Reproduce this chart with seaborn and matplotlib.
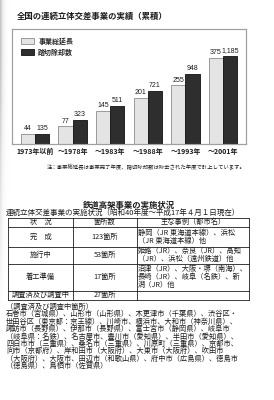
import numpy as np
import pandas as pd
import seaborn as sns
import matplotlib.pyplot as plt
from matplotlib.patches import Patch
from matplotlib.container import BarContainer

# ---- chart data ----
periods = ["1973年以前", "～1978年", "～1983年", "～1988年", "～1993年", "～2001年"]
series_names = ["事業総延長", "踏切除却数"]
length_km = [44, 77, 145, 201, 255, 375]
crossings = [135, 323, 511, 721, 948, 1185]

chart_title = "全国の連続立体交差事業の実績（累積）"
chart_note = "注：事業総延長は事業完了年度、踏切除却数は除去された年度で計上しています。"

# ---- table data ----
table_title = "鉄道高架事業の実施状況"
table_sub = "連続立体交差事業の実施状況（昭和40年度～平成17年４月１日現在）"
table_head = ["状　況", "箇所数", "主な事例（都市名）"]
status = ["完　成", "施行中", "着工準備", "調査済及び調査中"]
sites = ["123箇所", "53箇所", "17箇所", "27箇所"]
examples = [
    ["静岡（JR 東海道本線）、浜松", "（JR 東海道本線）他"],
    ["姫路（JR）、奈良（JR）、高知", "（JR）、浜松（遠州鉄道）他"],
    ["沼津（JR）、大阪・堺（南海）、", "長崎（JR）、岐阜（名鉄）、新", "潟（JR）他"],
    [],
]
survey_lines = [
    "（調査済及び調査中箇所）",
    "石巻市（宮城県）、山形市（山形県）、木更津市（千葉県）、渋谷区・",
    "世田谷区（東京都：京王線）、川崎市、横浜市、大和市（神奈川県）、",
    "諏訪市（長野県）、伊那市（長野県）、富士宮市（静岡県）、岐阜市",
    "（岐阜県：名鉄）、名古屋市、豊川市（愛知県）、半田市（愛知県）、",
    "四日市市（三重県）、桑名市（三重県）、川原町（三重県）、京都市、",
    "向市（京都府）、岸和田市（大阪府）、大東市（大阪府）、吹田市",
    "（大阪府）、大阪市、田辺市（和歌山県）、府中市（広島県）、徳島市",
    "（徳島県）、鳥栖市（佐賀県）",
]

sns.set_theme(style="white")
plt.rcParams['font.family'] = ['Noto Sans CJK JP', 'DejaVu Sans']
ink = "#1c1c1c"

df = pd.DataFrame({
    "年": periods * 2,
    "系列": [series_names[0]] * len(periods) + [series_names[1]] * len(periods),
    "値": length_km + crossings,
})
pal = {series_names[0]: "#e4e4e4", series_names[1]: "#2e2e2e"}
edge = {series_names[0]: "#8c8c8c", series_names[1]: "#111111"}

W, H = 274, 400
fig = plt.figure(figsize=(W / 100, H / 100), dpi=100)
fig.patch.set_facecolor("white")

# scanned-page shadow along the left edge
bg = fig.add_axes([0, 0, 1, 1], zorder=-5)
bg.set_xlim(0, W)
bg.set_ylim(H, 0)
bg.axis("off")
gx = np.linspace(0, 10, 40)
gy = np.linspace(0, H, 200)
shade = np.exp(-gx[None, :] / 2.2) * np.clip(1.2 - gy[:, None] / 260, 0, 1) * 0.28
bg.imshow(1 - shade, cmap="gray", vmin=0, vmax=1, extent=(0, 10, H, 0),
          aspect="auto", interpolation="bilinear")
bg.set_xlim(0, W)
bg.set_ylim(H, 0)

# chart box (pixel coords of the reference)
ax = fig.add_axes([12 / W, 1 - 144 / H, 234 / W, 115 / H])
ax2 = ax.twinx()
for a, name, top, vals in [(ax, series_names[0], 500, length_km),
                           (ax2, series_names[1], 1550, crossings)]:
    sns.barplot(data=df[df["系列"] == name], x="年", y="値", hue="系列",
                hue_order=series_names, order=periods, palette=pal,
                width=0.75, dodge=True, edgecolor=edge[name], linewidth=0.6,
                errorbar=None, legend=False, ax=a)
    a.set_ylim(0, top)
    a.set_yticks([])
    a.set_ylabel("")
    a.set_xlabel("")
    bars = [c for c in a.containers
            if isinstance(c, BarContainer) and len(c) and all(p is not None for p in c)]
    a.bar_label(bars[0], labels=[f"{v:,}" for v in vals], padding=1.2,
                fontsize=5, family="Liberation Sans", color=ink)

ax.set_xlim(-0.61, 5.61)
ax.tick_params(axis="x", length=0, pad=3, labelsize=5, colors=ink)
for lab in ax.get_xticklabels():
    lab.set_fontweight("bold")
for a in (ax, ax2):
    for s in a.spines.values():
        s.set_color("#a0a0a0")
        s.set_linewidth(0.8)

handles = [Patch(facecolor=pal[n], edgecolor=edge[n], linewidth=0.6) for n in series_names]
ax2.legend(handles=handles, labels=series_names, loc="upper left",
           bbox_to_anchor=(0.038, 0.93), borderaxespad=0, borderpad=0,
           frameon=False, handlelength=1.9, handleheight=1.0,
           handletextpad=0.6, labelspacing=0.55,
           prop={"size": 5, "weight": "bold"})

# ---- text layer in pixel coordinates ----
tx = fig.add_axes([0, 0, 1, 1])
tx.set_xlim(0, W)
tx.set_ylim(H, 0)
tx.axis("off")
tx.patch.set_alpha(0)

tx.text(17, 16, chart_title, fontsize=6.0, fontweight="bold", va="center", color=ink)
tx.text(47, 167, chart_note, fontsize=3.85, va="center", color=ink)
tx.text(128.5, 205, table_title, fontsize=6.0, fontweight="bold", va="center", ha="center", color=ink)
tx.text(6, 212.7, table_sub, fontsize=5.45, va="center", color=ink)

# table grid
row_y = [218, 226.5, 246.5, 263.5, 290.5, 299.5]
col_x = [8, 73, 137, 249]
for y in row_y:
    tx.plot([col_x[0], col_x[-1]], [y, y], color=ink, lw=0.6)
for x in col_x:
    tx.plot([x, x], [row_y[0], row_y[-1]], color=ink, lw=0.6)

fs = 5.2
step = 8
hy = (row_y[0] + row_y[1]) / 2
for i, h in enumerate(table_head):
    tx.text((col_x[i] + col_x[i + 1]) / 2, hy, h, fontsize=fs, ha="center", va="center", color=ink)
for r in range(len(status)):
    cy = (row_y[r + 1] + row_y[r + 2]) / 2
    tx.text((col_x[0] + col_x[1]) / 2, cy, status[r], fontsize=fs, ha="center", va="center", color=ink)
    tx.text((col_x[1] + col_x[2]) / 2, cy, sites[r], fontsize=fs, ha="center", va="center", color=ink)
    n = len(examples[r])
    for k, line in enumerate(examples[r]):
        tx.text(col_x[2] + 1, cy + (k - (n - 1) / 2) * step, line,
                fontsize=fs, ha="left", va="center", color=ink)

for k, line in enumerate(survey_lines):
    tx.text(6, 306.7 + k * 7.4, line, fontsize=fs, ha="left", va="center", color=ink)

fig.savefig("out.png", dpi=100, facecolor="white")
